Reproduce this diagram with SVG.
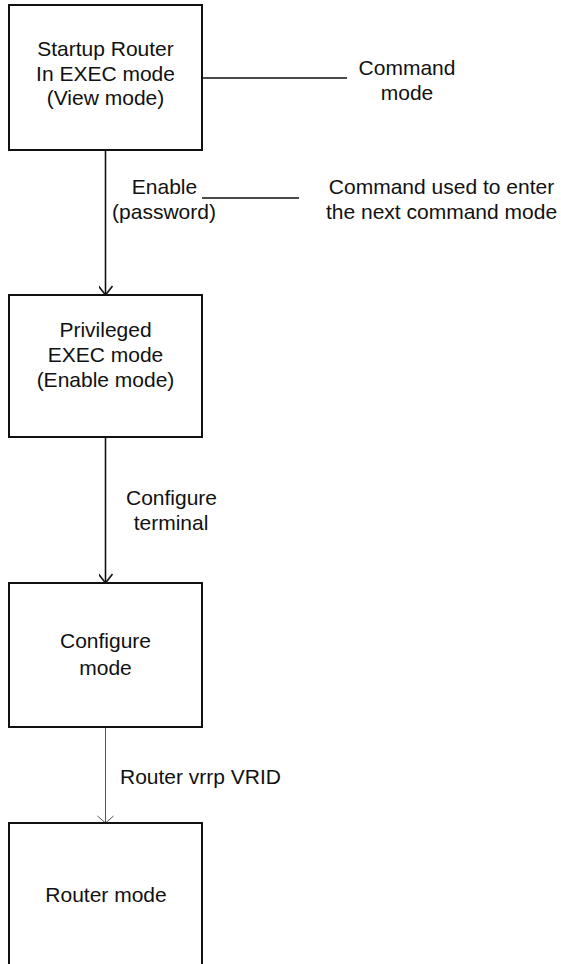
<svg xmlns="http://www.w3.org/2000/svg" width="561" height="964" viewBox="0 0 561 964">
<defs>
<style>
.box{fill:#fff;stroke:#111;stroke-width:2}
.t{font-family:"Liberation Sans",Arial,sans-serif;font-size:21px;fill:#111}
.m{text-anchor:middle}
.ln{stroke:#111;stroke-width:1.6;fill:none}
.thin{stroke:#555;stroke-width:1;fill:none}
</style>
<marker id="ah" markerUnits="userSpaceOnUse" markerWidth="20" markerHeight="14" refX="17" refY="7" orient="auto" viewBox="0 0 20 14">
<path d="M8,0 L17,7 L8,14" fill="none" stroke="#111" stroke-width="1.6"/>
</marker>
<marker id="ahThin" markerUnits="userSpaceOnUse" markerWidth="20" markerHeight="20" refX="17" refY="10" orient="auto" viewBox="0 0 20 20">
<path d="M10,2 L17,10 L10,18" fill="none" stroke="#555" stroke-width="1"/>
</marker>
</defs>
<rect width="561" height="964" fill="#fff"/>
<g id="connectors">
<line class="ln" x1="105.5" y1="150" x2="105.5" y2="295" marker-end="url(#ah)"/>
<line class="ln" x1="105.5" y1="437" x2="105.5" y2="583" marker-end="url(#ah)"/>
<line class="thin" x1="105.5" y1="727" x2="105.5" y2="823" marker-end="url(#ahThin)"/>
<line class="ln" x1="202" y1="78" x2="347" y2="78"/>
<line class="ln" x1="202" y1="198" x2="299" y2="198"/>
</g>
<g id="n1">
<rect class="box" x="9" y="5" width="193" height="145"/>
<text class="t m" x="105.5" y="56">Startup Router</text>
<text class="t m" x="105.5" y="81">In EXEC mode</text>
<text class="t m" x="105.5" y="105">(View mode)</text>
</g>
<g id="n2">
<rect class="box" x="9" y="295" width="193" height="142"/>
<text class="t m" x="105.5" y="337">Privileged</text>
<text class="t m" x="105.5" y="362">EXEC mode</text>
<text class="t m" x="105.5" y="387">(Enable mode)</text>
</g>
<g id="n3">
<rect class="box" x="9" y="583" width="193" height="144"/>
<text class="t m" x="105.5" y="648">Configure</text>
<text class="t m" x="105.5" y="675">mode</text>
</g>
<g id="n4">
<rect class="box" x="9" y="823" width="193" height="160"/>
<text class="t m" x="106" y="902">Router mode</text>
</g>
<g id="labels">
<text class="t m" x="407" y="75">Command</text>
<text class="t m" x="407" y="100">mode</text>
<text class="t m" x="164.5" y="194">Enable</text>
<text class="t m" x="164" y="219">(password)</text>
<text class="t m" x="441.5" y="194">Command used to enter</text>
<text class="t m" x="441.5" y="219">the next command mode</text>
<text class="t m" x="171.5" y="505">Configure</text>
<text class="t m" x="171" y="530">terminal</text>
<text class="t" x="120" y="784">Router vrrp VRID</text>
</g>
</svg>
